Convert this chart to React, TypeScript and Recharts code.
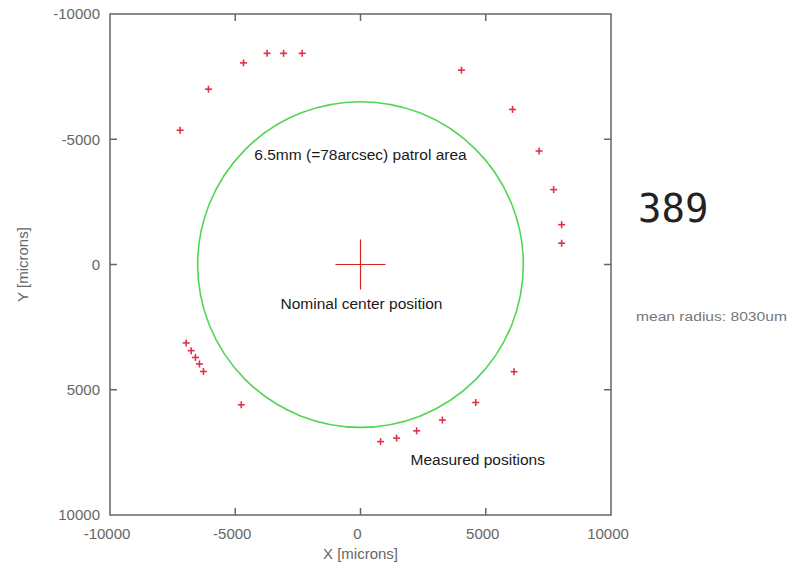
import React from 'react';
import {
  ScatterChart,
  Scatter,
  XAxis,
  YAxis,
  ReferenceArea,
  ReferenceLine,
  ReferenceDot,
} from 'recharts';

// axis ticks (Y axis runs -10000 at the top to 10000 at the bottom)
const xTicks = [-10000, -5000, 0, 5000, 10000];
const yTicks = [-10000, -5000, 0, 5000, 10000];
const innerTicks = [-5000, 0, 5000];

// measured fiber positions [microns]
const measuredX = [
  -7200, -6070, -4670, -3730, -3070, -2330, 4030, 6070, 7130, 7710, 8030, 8030,
  6130, 4600, 3270, 2240, 1440, 800, -4760, -6960, -6760, -6590, -6430, -6270,
];
const measuredY = [
  -5360, -7000, -8050, -8430, -8430, -8430, -7760, -6190, -4530, -2990, -1590, -850,
  4280, 5510, 6210, 6640, 6930, 7070, 5600, 3130, 3440, 3710, 3970, 4270,
];

const patrolRadius = 6500;
const crossArm = 1000;
const tickLen = 280;

const measured = measuredX.map((x, i) => ({ x, y: measuredY[i] }));

const font = '"Liberation Sans", Arial, sans-serif';

const PlusMarker = (props: any) => {
  const { cx, cy } = props;
  const a = 3.5;
  return (
    <g>
      <line x1={cx - a} x2={cx + a} y1={cy} y2={cy} stroke="#e0304a" strokeWidth={1.6} />
      <line x1={cx} x2={cx} y1={cy - a} y2={cy + a} stroke="#e0304a" strokeWidth={1.6} />
    </g>
  );
};

export default function App() {
  return (
    <div style={{ position: 'absolute', left: 0, top: 0, width: 789, height: 566, background: '#fff' }}>
      <ScatterChart width={789} height={566} margin={{ top: 14, right: 178, bottom: 5, left: 5 }}>
        <XAxis
          type="number"
          dataKey="x"
          domain={[-10000, 10000]}
          ticks={xTicks}
          interval={0}
          allowDataOverflow
          axisLine={false}
          tickLine={false}
          tickSize={0}
          tickMargin={13}
          height={46}
          tick={{ fill: '#666', fontSize: 15, fontFamily: font, dx: -3 }}
          label={{ value: 'X [microns]', position: 'insideBottom', offset: 2, fill: '#666', fontSize: 15, fontFamily: font }}
        />
        <YAxis
          type="number"
          dataKey="y"
          domain={[-10000, 10000]}
          ticks={yTicks}
          interval={0}
          reversed
          allowDataOverflow
          axisLine={false}
          tickLine={false}
          tickSize={0}
          tickMargin={10}
          width={105}
          tick={{ fill: '#666', fontSize: 15, fontFamily: font }}
          label={{
            value: 'Y [microns]',
            angle: -90,
            position: 'insideLeft',
            offset: 18,
            fill: '#666',
            fontSize: 15,
            fontFamily: font,
            style: { textAnchor: 'middle' },
          }}
        />

        {/* plot frame */}
        <ReferenceArea x1={-10000} x2={10000} y1={-10000} y2={10000} fill="none" fillOpacity={0} stroke="#666" strokeWidth={1.5} />

        {/* inward tick marks on all four sides */}
        {innerTicks.map((t) => (
          <ReferenceLine key={`b${t}`} segment={[{ x: t, y: 10000 }, { x: t, y: 10000 - tickLen }]} stroke="#666" strokeWidth={1.5} />
        ))}
        {innerTicks.map((t) => (
          <ReferenceLine key={`t${t}`} segment={[{ x: t, y: -10000 }, { x: t, y: -10000 + tickLen }]} stroke="#666" strokeWidth={1.5} />
        ))}
        {innerTicks.map((t) => (
          <ReferenceLine key={`l${t}`} segment={[{ x: -10000, y: t }, { x: -10000 + tickLen, y: t }]} stroke="#666" strokeWidth={1.5} />
        ))}
        {innerTicks.map((t) => (
          <ReferenceLine key={`r${t}`} segment={[{ x: 10000, y: t }, { x: 10000 - tickLen, y: t }]} stroke="#666" strokeWidth={1.5} />
        ))}

        {/* patrol area circle */}
        <ReferenceArea
          x1={-patrolRadius}
          x2={patrolRadius}
          y1={-patrolRadius}
          y2={patrolRadius}
          shape={(p: any) => (
            <ellipse
              cx={p.x + p.width / 2}
              cy={p.y + p.height / 2}
              rx={p.width / 2}
              ry={p.height / 2}
              fill="none"
              stroke="#52d652"
              strokeWidth={1.6}
            />
          )}
        />

        {/* nominal center cross */}
        <ReferenceLine segment={[{ x: -crossArm, y: 0 }, { x: crossArm, y: 0 }]} stroke="#e02020" strokeWidth={1.2} />
        <ReferenceLine segment={[{ x: 0, y: -crossArm }, { x: 0, y: crossArm }]} stroke="#e02020" strokeWidth={1.2} />

        <ReferenceDot x={0} y={-4400} r={0} fill="none" stroke="none"
          label={{ value: '6.5mm (=78arcsec) patrol area', position: 'center', fill: '#1a1a1a', fontSize: 15.5, fontFamily: font }} />
        <ReferenceDot x={40} y={1560} r={0} fill="none" stroke="none"
          label={{ value: 'Nominal center position', position: 'center', fill: '#1a1a1a', fontSize: 15.5, fontFamily: font }} />
        <ReferenceDot x={4680} y={7800} r={0} fill="none" stroke="none"
          label={{ value: 'Measured positions', position: 'center', fill: '#1a1a1a', fontSize: 15.5, fontFamily: font }} />

        <Scatter data={measured} shape={PlusMarker} isAnimationActive={false} />
      </ScatterChart>

      <div style={{ position: 'absolute', left: 638, top: 189, fontFamily: '"DejaVu Sans Mono", monospace', fontSize: 39, color: '#222', lineHeight: 1 }}>
        389
      </div>
      <div style={{ position: 'absolute', left: 636, top: 311, fontFamily: font, fontSize: 12, color: '#777', whiteSpace: 'nowrap', lineHeight: 1, transform: 'scaleX(1.3)', transformOrigin: 'left center' }}>
        mean radius: 8030um
      </div>
    </div>
  );
}
